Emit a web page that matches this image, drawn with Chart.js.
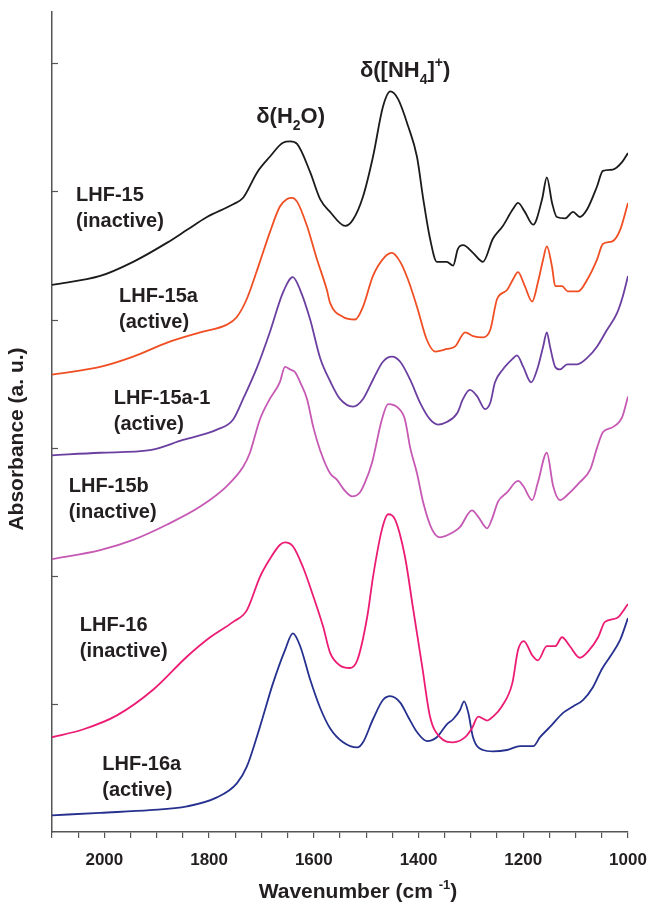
<!DOCTYPE html>
<html>
<head>
<meta charset="utf-8">
<script src="https://cdn.jsdelivr.net/npm/chart.js@4.4.1/dist/chart.umd.min.js"></script>
<style>
  body { margin: 0; background: #fff; }
  #wrap { width: 651px; height: 902px; }
</style>
</head>
<body>
<div id="wrap"><canvas id="irChart" width="651" height="902"></canvas></div>
<script>
// IR spectra, wavenumber (cm-1) vs absorbance (a. u., stacked)
const lhf15Wn = [2100,2008,1945,1880,1842,1804,1754,1735,1708,1684,1659,1645,1632,1607,1588,1569,1540,1525,1506,1487,1468,1454,1439,1420,1403,1391,1378,1365,1346,1334,1325,1315,1296,1277,1258,1239,1220,1210,1197,1181,1164,1155,1145,1136,1120,1105,1092,1078,1059,1048,1029,1011,1000];
const lhf15Abs = [4.27,4.34,4.45,4.60,4.70,4.80,4.90,4.95,5.15,5.27,5.38,5.39,5.37,5.15,4.94,4.84,4.73,4.78,4.96,5.27,5.66,5.78,5.72,5.51,5.27,4.94,4.63,4.45,4.45,4.42,4.55,4.58,4.52,4.45,4.63,4.73,4.86,4.91,4.84,4.74,4.94,5.11,4.91,4.80,4.79,4.84,4.80,4.86,5.04,5.16,5.17,5.23,5.30];

const lhf15aWn = [2100,2008,1945,1880,1817,1766,1747,1728,1703,1684,1665,1651,1642,1632,1613,1594,1575,1569,1544,1521,1506,1487,1464,1451,1435,1420,1403,1384,1368,1346,1330,1311,1296,1277,1263,1250,1231,1220,1210,1197,1183,1172,1162,1155,1145,1139,1126,1115,1095,1078,1059,1048,1030,1015,1000];
const lhf15aAbs = [3.57,3.63,3.71,3.82,3.90,3.96,4.02,4.16,4.45,4.68,4.88,4.94,4.95,4.92,4.73,4.47,4.23,4.13,4.02,4.00,4.10,4.34,4.49,4.52,4.45,4.31,4.10,3.84,3.75,3.77,3.79,3.90,3.87,3.86,3.92,4.16,4.23,4.31,4.37,4.26,4.14,4.29,4.47,4.57,4.41,4.26,4.26,4.22,4.22,4.31,4.47,4.59,4.61,4.70,4.91];

const lhf15a1Wn = [2100,2008,1913,1850,1785,1754,1735,1708,1684,1659,1640,1626,1607,1588,1569,1550,1525,1506,1487,1468,1451,1435,1416,1397,1378,1363,1346,1326,1315,1302,1288,1273,1263,1254,1239,1221,1212,1200,1185,1172,1162,1155,1149,1139,1130,1116,1097,1078,1059,1040,1021,1010,1000];
const lhf15a1Abs = [2.94,2.96,2.98,3.06,3.14,3.22,3.38,3.63,3.90,4.21,4.33,4.23,4.00,3.70,3.52,3.38,3.32,3.38,3.53,3.67,3.71,3.67,3.53,3.35,3.22,3.18,3.20,3.27,3.38,3.45,3.40,3.30,3.35,3.51,3.61,3.69,3.72,3.63,3.51,3.63,3.79,3.90,3.79,3.63,3.61,3.65,3.65,3.70,3.79,3.92,4.05,4.18,4.34];

const lhf15bWn = [2100,2008,1945,1880,1817,1766,1735,1722,1703,1684,1665,1655,1645,1636,1626,1613,1601,1588,1569,1556,1540,1527,1512,1502,1489,1470,1458,1439,1426,1416,1403,1391,1374,1359,1334,1321,1298,1286,1269,1260,1248,1231,1210,1200,1183,1172,1155,1143,1130,1116,1092,1072,1059,1048,1029,1011,1000];
const lhf15bAbs = [2.13,2.20,2.28,2.40,2.54,2.70,2.85,2.96,3.22,3.38,3.51,3.63,3.61,3.59,3.51,3.38,3.16,2.98,2.80,2.75,2.66,2.62,2.65,2.73,2.88,3.22,3.34,3.31,3.22,3.00,2.80,2.57,2.36,2.30,2.34,2.38,2.51,2.46,2.37,2.44,2.58,2.65,2.74,2.70,2.59,2.73,2.96,2.70,2.59,2.63,2.73,2.83,3.00,3.12,3.16,3.24,3.40];

const lhf16Wn = [2100,2041,1976,1907,1842,1798,1754,1728,1703,1684,1665,1655,1640,1621,1601,1582,1569,1550,1531,1517,1498,1487,1470,1458,1445,1426,1411,1393,1378,1359,1334,1311,1298,1286,1269,1258,1241,1221,1210,1199,1183,1172,1155,1139,1126,1111,1092,1076,1057,1044,1021,1000];
const lhf16Abs = [0.74,0.80,0.91,1.11,1.37,1.52,1.64,1.73,1.99,2.13,2.24,2.26,2.23,2.07,1.84,1.60,1.40,1.30,1.28,1.34,1.68,1.99,2.36,2.48,2.44,2.15,1.76,1.29,0.90,0.74,0.70,0.74,0.81,0.90,0.87,0.90,0.98,1.16,1.42,1.49,1.38,1.34,1.45,1.45,1.52,1.45,1.36,1.41,1.52,1.64,1.67,1.78];

const lhf16aWn = [2100,2008,1913,1842,1785,1747,1728,1703,1678,1655,1640,1626,1607,1588,1569,1544,1517,1506,1487,1468,1454,1435,1420,1403,1384,1365,1346,1334,1321,1313,1305,1296,1277,1258,1231,1206,1181,1168,1149,1124,1105,1086,1067,1050,1034,1015,1000];
const lhf16aAbs = [0.13,0.15,0.17,0.20,0.27,0.38,0.51,0.82,1.16,1.42,1.55,1.45,1.19,0.97,0.81,0.70,0.66,0.70,0.88,1.03,1.06,1.01,0.90,0.78,0.71,0.74,0.84,0.88,0.95,1.02,0.93,0.74,0.64,0.63,0.64,0.67,0.67,0.74,0.82,0.93,0.98,1.03,1.13,1.27,1.37,1.50,1.67];

const seriesColors = ['#1b1b1b', '#f04e23', '#6b3fa0', '#c659b4', '#ec1c74', '#26318f'];

// sample labels drawn next to each trace
const labelNames = ['LHF-15', 'LHF-15a', 'LHF-15a-1', 'LHF-15b', 'LHF-16', 'LHF-16a'];
const labelStates = ['(inactive)', '(active)', '(active)', '(inactive)', '(inactive)', '(active)'];
const labelWn = [2054, 1972, 1982, 2068, 2047, 2004];
const labelAbs = [4.97, 4.18, 3.38, 2.70, 1.61, 0.53];

// band assignments above the peaks
const bandWn = [1710, 1512];
const bandAbs = [5.53, 5.89];

const xTickStep = 50;
const xLabelEvery = 200;

function toPoints(wn, abs) {
    return wn.map((w, i) => ({ x: w, y: abs[i] }));
}

const allSeries = [
    [lhf15Wn, lhf15Abs],
    [lhf15aWn, lhf15aAbs],
    [lhf15a1Wn, lhf15a1Abs],
    [lhf15bWn, lhf15bAbs],
    [lhf16Wn, lhf16Abs],
    [lhf16aWn, lhf16aAbs]
];

const TEXT = '#231f20';
const AXIS = '#555';

// draws a run of text with sub/superscript pieces, starting at x
function drawRich(ctx, parts, x, y, size) {
    ctx.textBaseline = 'alphabetic';
    ctx.textAlign = 'left';
    let cx = x;
    parts.forEach(p => {
        const s = p.sub || p.sup ? Math.round(size * 0.62) : size;
        ctx.font = `bold ${s}px "Liberation Sans", Arial, sans-serif`;
        let dy = 0;
        if (p.sub) dy = size * 0.28;
        if (p.sup) dy = -size * 0.45;
        ctx.fillText(p.t, cx, y + dy);
        cx += ctx.measureText(p.t).width;
    });
    return cx - x;
}

function richWidth(ctx, parts, size) {
    let w = 0;
    parts.forEach(p => {
        const s = p.sub || p.sup ? Math.round(size * 0.62) : size;
        ctx.font = `bold ${s}px "Liberation Sans", Arial, sans-serif`;
        w += ctx.measureText(p.t).width;
    });
    return w;
}

const textPlugin = {
    id: 'textPlugin',
    afterDraw(chart) {
        const ctx = chart.ctx;
        const xs = chart.scales.x;
        const ys = chart.scales.y;
        const area = chart.chartArea;
        ctx.save();

        // inward ticks on the left axis
        ctx.strokeStyle = AXIS;
        ctx.lineWidth = 1.2;
        ys.ticks.forEach(t => {
            if (t.value <= 0 || t.value % 1 !== 0) return;
            const py = Math.round(ys.getPixelForValue(t.value)) + 0.5;
            ctx.beginPath();
            ctx.moveTo(area.left, py);
            ctx.lineTo(area.left + 6, py);
            ctx.stroke();
        });

        ctx.fillStyle = TEXT;

        // trace labels
        ctx.font = 'bold 20px "Liberation Sans", Arial, sans-serif';
        ctx.textBaseline = 'middle';
        ctx.textAlign = 'left';
        labelNames.forEach((name, i) => {
            const px = xs.getPixelForValue(labelWn[i]);
            const py = ys.getPixelForValue(labelAbs[i]);
            ctx.fillText(name, px, py);
            ctx.fillText(labelStates[i], px, py + 26);
        });

        // band assignments
        drawRich(ctx, [{ t: 'δ(H' }, { t: '2', sub: true }, { t: 'O)' }],
            xs.getPixelForValue(bandWn[0]), ys.getPixelForValue(bandAbs[0]), 22);
        drawRich(ctx, [{ t: 'δ([NH' }, { t: '4', sub: true }, { t: ']' }, { t: '+', sup: true }, { t: ')' }],
            xs.getPixelForValue(bandWn[1]), ys.getPixelForValue(bandAbs[1]), 22);

        // x axis title
        const xParts = [{ t: 'Wavenumber (cm ' }, { t: '-1', sup: true }, { t: ')' }];
        const xw = richWidth(ctx, xParts, 21);
        drawRich(ctx, xParts, 358 - xw / 2, 898, 21);

        // y axis title
        ctx.translate(17.5, 439);
        ctx.rotate(-Math.PI / 2);
        ctx.font = 'bold 21px "Liberation Sans", Arial, sans-serif';
        ctx.textAlign = 'center';
        ctx.textBaseline = 'middle';
        ctx.fillText('Absorbance (a. u.)', 0, 0);

        ctx.restore();
    }
};

const datasets = allSeries.map((s, i) => ({
    label: labelNames[i],
    data: toPoints(s[0], s[1]),
    borderColor: seriesColors[i],
    borderWidth: 1.8,
    pointRadius: 0,
    fill: false,
    cubicInterpolationMode: 'monotone'
}));

new Chart(document.getElementById('irChart').getContext('2d'), {
    type: 'line',
    data: { datasets },
    options: {
        responsive: false,
        animation: false,
        devicePixelRatio: 1,
        layout: { padding: { left: 0, right: 23, top: 12, bottom: 0 } },
        plugins: {
            legend: { display: false },
            tooltip: { enabled: false }
        },
        scales: {
            x: {
                type: 'linear',
                min: 1000,
                max: 2100,
                reverse: true,
                afterFit: (scale) => {
                    scale.height = 70;
                    scale.paddingLeft = 0;
                    scale.paddingRight = 0;
                },
                ticks: {
                    stepSize: xTickStep,
                    autoSkip: false,
                    maxRotation: 0,
                    padding: 12,
                    color: TEXT,
                    font: { family: '"Liberation Sans", Arial, sans-serif', size: 17, weight: 'bold' },
                    callback: (v) => (v % xLabelEvery === 0 ? String(v) : '')
                },
                grid: { drawOnChartArea: false, drawTicks: true, tickLength: 6, color: AXIS, lineWidth: 1.2 },
                border: { display: true, color: AXIS, width: 1.5 }
            },
            y: {
                type: 'linear',
                min: 0,
                max: 6.4,
                afterFit: (scale) => { scale.width = 52; },
                ticks: { display: false, stepSize: 1 },
                grid: { display: false },
                border: { display: true, color: AXIS, width: 1.5 }
            }
        }
    },
    plugins: [textPlugin]
});
</script>
</body>
</html>
